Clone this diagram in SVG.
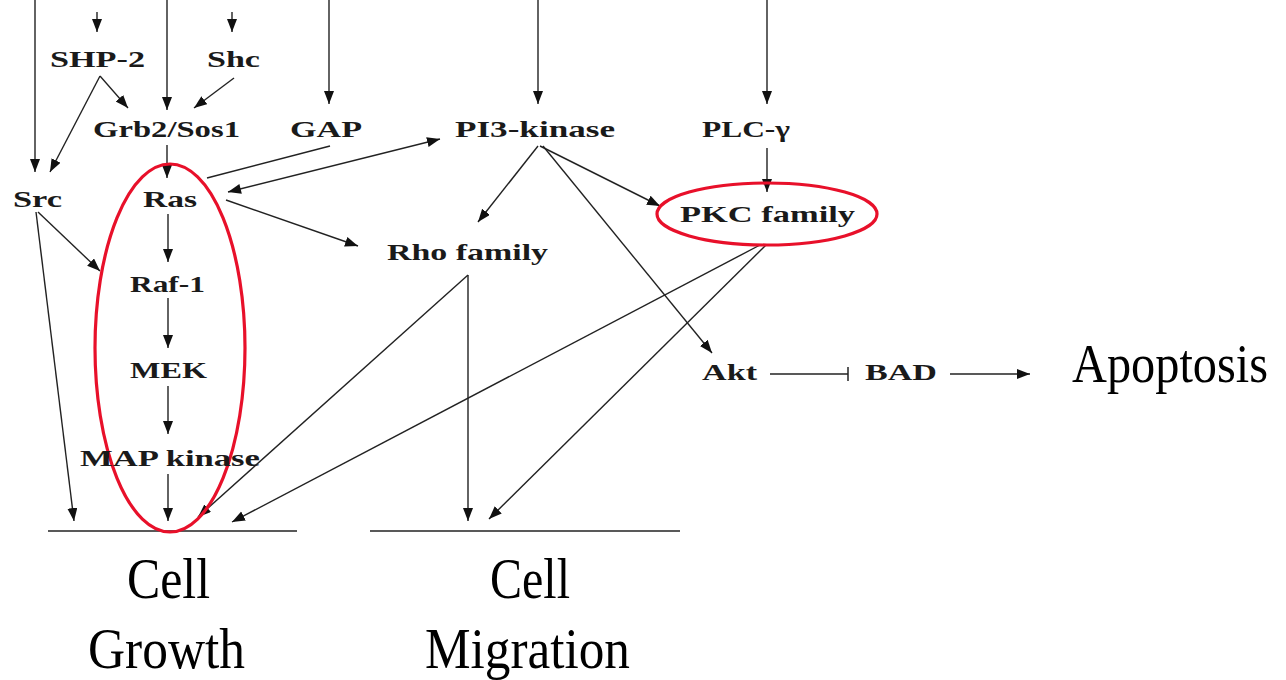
<svg xmlns="http://www.w3.org/2000/svg" width="1286" height="680" viewBox="0 0 1286 680">
<style>
.n{font-family:"Liberation Serif","Times New Roman",serif;font-weight:bold;font-size:24px;fill:#1a1a1a}
.big{font-family:"Liberation Serif","Times New Roman",serif;font-size:56px;fill:#000}
.apo{font-family:"Liberation Serif","Times New Roman",serif;font-size:48px;fill:#000}
.c line,.c path{stroke:#222;stroke-width:1.4;fill:none}
.a{marker-end:url(#ah)}
.hl{fill:none;stroke:#e8102a;stroke-width:3.2}
</style>
<defs>
<marker id="ah" markerUnits="userSpaceOnUse" markerWidth="15" markerHeight="11" refX="13" refY="5" orient="auto">
<path d="M0,0 L13,5 L0,10 Z" fill="#111"/>
</marker>
<marker id="as" markerUnits="userSpaceOnUse" markerWidth="15" markerHeight="11" refX="0" refY="5" orient="auto">
<path d="M13,0 L0,5 L13,10 Z" fill="#111"/>
</marker>
<marker id="bar" markerUnits="userSpaceOnUse" markerWidth="4" markerHeight="14" refX="2" refY="7" orient="auto">
<line x1="2" y1="0" x2="2" y2="14" stroke="#222" stroke-width="1.5"/>
</marker>
</defs>
<rect width="1286" height="680" fill="#fff"/>

<g id="baselines" class="c">
<line x1="48" y1="531" x2="297" y2="531"/>
<line x1="370" y1="531" x2="680" y2="531"/>
</g>

<g id="connectors" class="c">
<line class="a" x1="35" y1="0" x2="35" y2="172"/>
<line class="a" x1="97" y1="12" x2="97" y2="32"/>
<line class="a" x1="167" y1="0" x2="167" y2="110"/>
<line class="a" x1="232" y1="12" x2="232" y2="32"/>
<line class="a" x1="329" y1="0" x2="329" y2="104"/>
<line class="a" x1="538" y1="0" x2="538" y2="104"/>
<line class="a" x1="767" y1="0" x2="767" y2="104"/>
<line class="a" x1="100" y1="76" x2="128" y2="108"/>
<line class="a" x1="100" y1="76" x2="50" y2="172"/>
<line class="a" x1="234" y1="78" x2="194" y2="108"/>
<line class="a" x1="167" y1="145" x2="167" y2="178"/>
<line x1="330" y1="146" x2="207" y2="178"/>
<line class="a" x1="228" y1="192" x2="440" y2="139" marker-start="url(#as)"/>
<line class="a" x1="226" y1="200" x2="358" y2="246"/>
<line class="a" x1="538" y1="146" x2="478" y2="222"/>
<line class="a" x1="540" y1="146" x2="660" y2="206"/>
<line class="a" x1="543" y1="146" x2="712" y2="353"/>
<line class="a" x1="767" y1="148" x2="767" y2="192"/>
<line class="a" x1="38" y1="212" x2="100" y2="271"/>
<line class="a" x1="36" y1="212" x2="74" y2="521"/>
<line class="a" x1="168" y1="214" x2="168" y2="262"/>
<line class="a" x1="168" y1="298" x2="168" y2="348"/>
<line class="a" x1="168" y1="386" x2="168" y2="434"/>
<line class="a" x1="168" y1="474" x2="168" y2="521"/>
<line class="a" x1="468" y1="275" x2="198" y2="517"/>
<line class="a" x1="468" y1="275" x2="468" y2="521"/>
<line class="a" x1="760" y1="245" x2="232" y2="522"/>
<line class="a" x1="766" y1="245" x2="489" y2="519"/>
<line x1="770" y1="374" x2="848" y2="374" marker-end="url(#bar)"/>
<line class="a" x1="950" y1="374" x2="1030" y2="374"/>
</g>

<g id="highlights">
<ellipse class="hl" cx="170" cy="348" rx="75" ry="184"/>
<ellipse class="hl" cx="767" cy="214" rx="110" ry="31"/>
</g>

<g id="node-shp2"><text class="n" x="50" y="67" textLength="95" lengthAdjust="spacingAndGlyphs">SHP-2</text></g>
<g id="node-shc"><text class="n" x="207" y="67" textLength="53" lengthAdjust="spacingAndGlyphs">Shc</text></g>
<g id="node-grb2"><text class="n" x="93" y="137" textLength="147" lengthAdjust="spacingAndGlyphs">Grb2/Sos1</text></g>
<g id="node-gap"><text class="n" x="290" y="137" textLength="72" lengthAdjust="spacingAndGlyphs">GAP</text></g>
<g id="node-pi3k"><text class="n" x="455" y="137" textLength="160" lengthAdjust="spacingAndGlyphs">PI3-kinase</text></g>
<g id="node-plc"><text class="n" x="702" y="137" textLength="88" lengthAdjust="spacingAndGlyphs">PLC-γ</text></g>
<g id="node-src"><text class="n" x="13" y="207" textLength="49" lengthAdjust="spacingAndGlyphs">Src</text></g>
<g id="node-ras"><text class="n" x="143" y="207" textLength="54" lengthAdjust="spacingAndGlyphs">Ras</text></g>
<g id="node-pkc"><text class="n" x="680" y="222" textLength="175" lengthAdjust="spacingAndGlyphs">PKC family</text></g>
<g id="node-rho"><text class="n" x="387" y="260" textLength="161" lengthAdjust="spacingAndGlyphs">Rho family</text></g>
<g id="node-raf"><text class="n" x="130" y="292" textLength="75" lengthAdjust="spacingAndGlyphs">Raf-1</text></g>
<g id="node-mek"><text class="n" x="130" y="378" textLength="77" lengthAdjust="spacingAndGlyphs">MEK</text></g>
<g id="node-mapk"><text class="n" x="80" y="466" textLength="180" lengthAdjust="spacingAndGlyphs">MAP kinase</text></g>
<g id="node-akt"><text class="n" x="702" y="380" textLength="55" lengthAdjust="spacingAndGlyphs">Akt</text></g>
<g id="node-bad"><text class="n" x="865" y="380" textLength="72" lengthAdjust="spacingAndGlyphs">BAD</text></g>
<g id="node-apoptosis"><text class="apo" transform="translate(1072,382) scale(1,1.15)" x="0" y="0" textLength="196" lengthAdjust="spacingAndGlyphs">Apoptosis</text></g>
<g id="node-growth">
<text class="big" x="127" y="598" textLength="83" lengthAdjust="spacingAndGlyphs">Cell</text>
<text class="big" x="88" y="668" textLength="157" lengthAdjust="spacingAndGlyphs">Growth</text>
</g>
<g id="node-migration">
<text class="big" x="490" y="598" textLength="80" lengthAdjust="spacingAndGlyphs">Cell</text>
<text class="big" x="425" y="668" textLength="205" lengthAdjust="spacingAndGlyphs">Migration</text>
</g>
</svg>
